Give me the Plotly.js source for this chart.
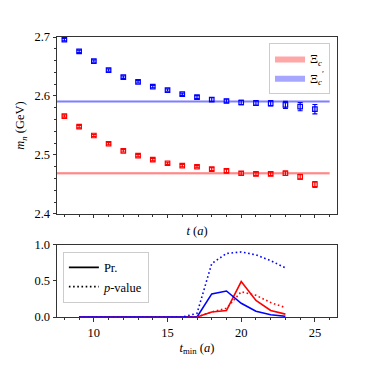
<!DOCTYPE html>
<html>
<head>
<meta charset="utf-8">
<script src="https://cdn.plot.ly/plotly-3.0.1.min.js"></script>
<style>
  html, body { margin: 0; padding: 0; background: #fff; }
  #chart { width: 374px; height: 374px; }
</style>
</head>
<body>
<div id="chart"></div>
<script>
// effective mass vs t
const t = [8, 9, 10, 11, 12, 13, 14, 15, 16, 17, 18, 19, 20, 21, 22, 23, 24, 25];
const mXic = [2.566, 2.548, 2.533, 2.519, 2.507, 2.499, 2.492, 2.486, 2.482, 2.480,
              2.476, 2.473, 2.469, 2.468, 2.468, 2.469, 2.463, 2.450];
const errXic = [0.002, 0.002, 0.002, 0.002, 0.002, 0.002, 0.002, 0.002, 0.002, 0.002,
                0.0025, 0.003, 0.003, 0.003, 0.003, 0.0035, 0.004, 0.005];
const mXicP = [2.6955, 2.6756, 2.6592, 2.6439, 2.632, 2.624, 2.616, 2.610, 2.603, 2.598,
               2.594, 2.5915, 2.589, 2.588, 2.5875, 2.585, 2.582, 2.5776];
const errXicP = [0.002, 0.002, 0.002, 0.002, 0.002, 0.002, 0.002, 0.002, 0.002, 0.0025,
                 0.003, 0.003, 0.0035, 0.004, 0.0045, 0.006, 0.007, 0.008];

// fitted bands
const bandX = [7.5, 26];
const fitXic = 2.469, fitErrXic = 0.002;
const fitXicP = 2.5907, fitErrXicP = 0.002;

// probability / p-value vs t_min
const tmin = [9, 10, 11, 12, 13, 14, 15, 16, 17, 18, 19, 20, 21, 22, 23];
const prXic = [0, 0, 0, 0, 0, 0, 0, 0, 0, 0.07, 0.09, 0.49, 0.23, 0.09, 0.04];
const prXicP = [0, 0, 0, 0, 0, 0, 0, 0, 0, 0.32, 0.36, 0.19, 0.08, 0.03, 0.01];
const pvXic = [0, 0, 0, 0, 0, 0, 0, 0, 0, 0.07, 0.12, 0.35, 0.30, 0.20, 0.13];
const pvXicP = [0, 0, 0, 0, 0, 0, 0, 0, 0.05, 0.74, 0.88, 0.90, 0.86, 0.78, 0.68];

const RED = '#ff0000', BLUE = '#0000ff';
const FONT = 'Times New Roman, Liberation Serif, serif';
const DOT = '1.6px,2.6px';

function band(mid, err, color, name) {
    return {
        x: [bandX[0], bandX[1], bandX[1], bandX[0], bandX[0]],
        y: [mid - err, mid - err, mid + err, mid + err, mid - err],
        xaxis: 'x2', yaxis: 'y2',
        mode: 'lines', fill: 'toself', fillcolor: color,
        line: { width: 0 }, name: name, legend: 'legend', hoverinfo: 'skip'
    };
}
function centre(mid, color) {
    return {
        x: bandX, y: [mid, mid], xaxis: 'x2', yaxis: 'y2',
        mode: 'lines', line: { color: color, width: 0.8 }, showlegend: false
    };
}
function points(y, err, color) {
    return {
        x: t, y: y, xaxis: 'x2', yaxis: 'y2', mode: 'markers',
        marker: { symbol: 'square-open', size: 4.5, color: color, line: { width: 1.2, color: color } },
        error_y: { type: 'data', array: err, visible: true, color: color, thickness: 1.2, width: 2.5 },
        showlegend: false
    };
}
function curve(y, color, dash) {
    return {
        x: tmin, y: y, mode: 'lines', line: { color: color, width: 1.6, dash: dash },
        showlegend: false
    };
}

const traces = [
    band(fitXic, fitErrXic, 'rgba(255,0,0,0.35)', 'Ξ<sub><i>c</i></sub>'),
    band(fitXicP, fitErrXicP, 'rgba(0,0,255,0.35)', 'Ξ<sub><i>c</i></sub><sup>′</sup>'),
    centre(fitXic, 'rgba(255,0,0,0.3)'),
    centre(fitXicP, 'rgba(0,0,255,0.3)'),
    points(mXic, errXic, RED),
    points(mXicP, errXicP, BLUE),
    curve(prXic, RED, 'solid'),
    curve(prXicP, BLUE, 'solid'),
    curve(pvXic, RED, DOT),
    curve(pvXicP, BLUE, DOT),
    // legend keys for the lower panel
    { x: [null], y: [null], mode: 'lines', line: { color: 'black', width: 1.6 },
      name: 'Pr.', legend: 'legend2' },
    { x: [null], y: [null], mode: 'lines', line: { color: 'black', width: 1.6, dash: DOT },
      name: '<i>p</i>-value', legend: 'legend2' }
];

const axisBase = {
    showgrid: false, zeroline: false, showline: true, mirror: true,
    linecolor: '#333', linewidth: 1, ticks: 'outside', ticklen: 3.5, tickcolor: '#333',
    tickfont: { family: FONT, size: 12.5, color: 'black' }
};

const layout = {
    width: 374, height: 374,
    margin: { l: 57, r: 37, t: 37, b: 57 },
    paper_bgcolor: 'white', plot_bgcolor: 'white',
    font: { family: FONT, size: 12, color: 'black' },
    xaxis: Object.assign({}, axisBase, {
        range: [7.5, 26.5], tickvals: [10, 15, 20, 25], anchor: 'y',
        minor: { dtick: 1, tick0: 0, ticks: 'outside', ticklen: 2, tickcolor: '#333' },
        title: { text: '<i>t</i><sub>min</sub> (<i>a</i>)', standoff: 4, font: { family: FONT, size: 12.5 } }
    }),
    yaxis: Object.assign({}, axisBase, {
        domain: [0, 0.258], range: [0, 1], tickvals: [0, 0.5, 1],
        ticktext: ['0.0', '0.5', '1.0'], anchor: 'x'
    }),
    xaxis2: Object.assign({}, axisBase, {
        range: [7.5, 26.5], tickvals: [10, 15, 20, 25], showticklabels: false, anchor: 'y2',
        minor: { dtick: 1, tick0: 0, ticks: 'outside', ticklen: 2, tickcolor: '#333' },
        title: { text: '<i>t</i> (<i>a</i>)', standoff: 8, font: { family: FONT, size: 12.5 } }
    }),
    yaxis2: Object.assign({}, axisBase, {
        domain: [0.368, 1], range: [2.4, 2.7], tickvals: [2.4, 2.5, 2.6, 2.7], anchor: 'x2',
        minor: { dtick: 0.02, tick0: 2.4, ticks: 'outside', ticklen: 2, tickcolor: '#333' },
        title: { text: '<i>m</i><sub><i>n</i></sub> (GeV)', standoff: 6, font: { family: FONT, size: 12.5 } }
    }),
    legend: {
        x: 0.975, y: 0.979, xanchor: 'right', yanchor: 'top',
        bgcolor: 'white', bordercolor: '#ccc', borderwidth: 1,
        font: { family: FONT, size: 12.5 }, itemwidth: 30
    },
    legend2: {
        x: 0.021, y: 0.233, xanchor: 'left', yanchor: 'top',
        bgcolor: 'white', bordercolor: '#ccc', borderwidth: 1,
        font: { family: FONT, size: 12.5 }, itemwidth: 30
    }
};

Plotly.newPlot('chart', traces, layout, { displayModeBar: false, staticPlot: true });
</script>
</body>
</html>
